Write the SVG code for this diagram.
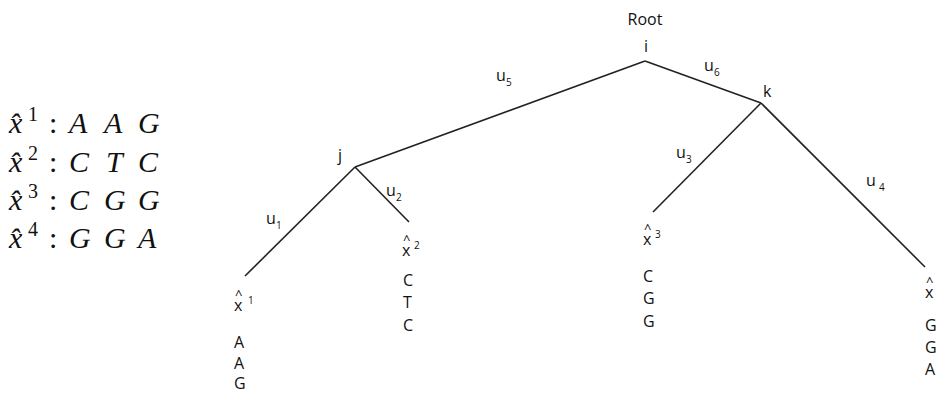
<svg xmlns="http://www.w3.org/2000/svg" width="937" height="394" viewBox="0 0 937 394">
<style>
.t{font-family:"Open Sans","DejaVu Sans",sans-serif;font-size:16px;fill:#111}
.h{font-family:"Open Sans","DejaVu Sans",sans-serif;font-size:13px;fill:#111}
.s{font-family:"Open Sans","DejaVu Sans",sans-serif;font-size:10px;fill:#111}
.m{font-family:"Liberation Serif","DejaVu Serif",serif;font-size:30px;fill:#111;font-style:italic}
.c{font-family:"Liberation Serif","DejaVu Serif",serif;font-size:30px;fill:#111}
.ms{font-family:"Liberation Serif","DejaVu Serif",serif;font-size:20px;fill:#111}
.e{stroke:#222;stroke-width:1.6;fill:none}
</style>
<rect width="937" height="394" fill="#fff"/>
<g id="sequences">
<text class="m" x="9" y="133">x̂</text><text class="ms" x="28" y="121">1</text><text class="c" x="49" y="133">:</text><text class="m" x="69" y="133">A</text><text class="m" x="104" y="133">A</text><text class="m" x="138" y="133">G</text>
<text class="m" x="9" y="172">x̂</text><text class="ms" x="28" y="160">2</text><text class="c" x="49" y="172">:</text><text class="m" x="69" y="172">C</text><text class="m" x="106" y="172">T</text><text class="m" x="138" y="172">C</text>
<text class="m" x="9" y="210">x̂</text><text class="ms" x="28" y="198">3</text><text class="c" x="49" y="210">:</text><text class="m" x="69" y="210">C</text><text class="m" x="104" y="210">G</text><text class="m" x="138" y="210">G</text>
<text class="m" x="9" y="248">x̂</text><text class="ms" x="28" y="236">4</text><text class="c" x="49" y="248">:</text><text class="m" x="69" y="248">G</text><text class="m" x="104" y="248">G</text><text class="m" x="138" y="248">A</text>
</g>
<g id="edges">
<line class="e" x1="645" y1="61" x2="355" y2="167"/>
<line class="e" x1="645" y1="61" x2="761" y2="103"/>
<line class="e" x1="355" y1="167" x2="245" y2="276"/>
<line class="e" x1="355" y1="167" x2="409" y2="222"/>
<line class="e" x1="761" y1="103" x2="653" y2="212"/>
<line class="e" x1="761" y1="103" x2="925" y2="267"/>
<text class="t" x="496" y="81">u</text><text class="s" x="506" y="86">5</text>
<text class="t" x="704" y="71">u</text><text class="s" x="714" y="76">6</text>
<text class="t" x="266" y="224">u</text><text class="s" x="276" y="229">1</text>
<text class="t" x="386" y="196">u</text><text class="s" x="396" y="201">2</text>
<text class="t" x="676" y="158">u</text><text class="s" x="686" y="163">3</text>
<text class="t" x="866" y="186">u</text><text class="s" x="879" y="191">4</text>
</g>
<g id="root">
<text class="t" x="645" y="25" text-anchor="middle">Root</text>
<text class="t" x="646" y="52" text-anchor="middle">i</text>
</g>
<g id="node-j"><text class="t" x="338" y="161">j</text></g>
<g id="node-k"><text class="t" x="763" y="97">k</text></g>
<g id="leaf-x1">
<text class="h" x="235" y="299">^</text><text class="t" x="234" y="311">x</text><text class="s" x="248" y="304">1</text>
<text class="t" x="234" y="348">A</text><text class="t" x="234" y="369">A</text><text class="t" x="234" y="389">G</text>
</g>
<g id="leaf-x2">
<text class="h" x="403" y="244">^</text><text class="t" x="402" y="256">x</text><text class="s" x="414" y="249">2</text>
<text class="t" x="403" y="286">C</text><text class="t" x="403" y="308">T</text><text class="t" x="403" y="331">C</text>
</g>
<g id="leaf-x3">
<text class="h" x="644" y="233">^</text><text class="t" x="643" y="245">x</text><text class="s" x="655" y="238">3</text>
<text class="t" x="643" y="282">C</text><text class="t" x="643" y="304">G</text><text class="t" x="643" y="327">G</text>
</g>
<g id="leaf-x4">
<text class="h" x="926" y="286">^</text><text class="t" x="925" y="298">x</text>
<text class="t" x="925" y="331">G</text><text class="t" x="925" y="353">G</text><text class="t" x="925" y="375">A</text>
</g>
</svg>
